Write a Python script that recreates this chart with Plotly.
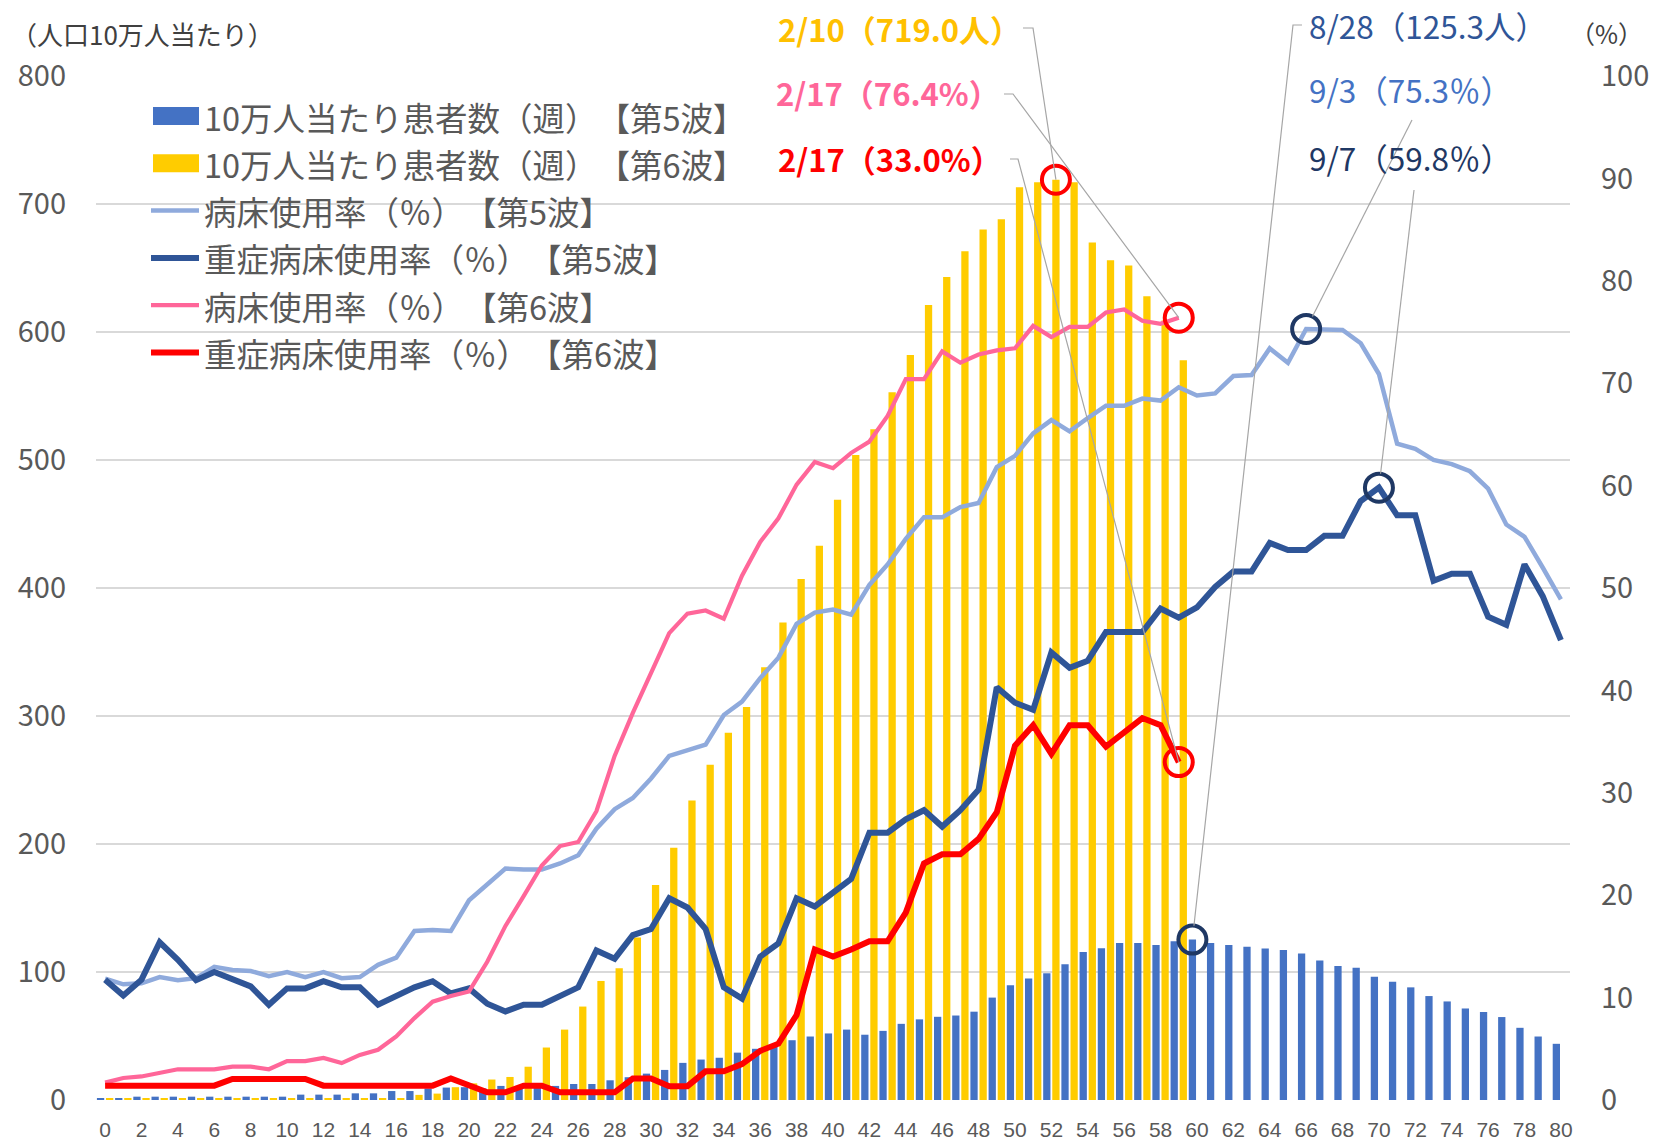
import math
import plotly.graph_objects as go

# ---------------- data ----------------
days = list(range(81))
x_ticks = list(range(0, 81, 2))

# weekly cases per 100k (wave 5: 81 days, wave 6: 60 days)
wave5_cases = [1.3, 1.3, 2.6, 2.6, 2.6, 2.6, 2.6, 2.6, 2.6, 2.6,
               2.6, 4.2, 4.2, 4.2, 5.2, 5.2, 7.0, 7.0, 9.0, 9.7,
               10.0, 9.0, 11.0, 11.0, 11.0, 11.0, 12.5, 12.5, 15.4, 17.8,
               20.6, 23.5, 29.0, 31.6, 33.0, 37.0, 40.0, 43.0, 46.7, 49.6,
               52.0, 55.0, 51.0, 54.0, 59.5, 63.0, 65.0, 66.0, 69.0, 80.0,
               89.6, 95.0, 99.0, 106.0, 115.7, 118.5, 122.7, 122.7, 121.0, 124.0,
               125.3, 122.7, 121.0, 119.8, 118.3, 117.2, 114.4, 108.9, 104.7, 103.4,
               96.3, 92.4, 88.0, 81.2, 77.0, 71.5, 68.7, 64.8, 56.4, 49.6,
               43.9]
wave6_cases = [1, 1, 1, 1, 1, 1, 1, 1, 1, 1,
               1, 1, 1, 1, 1.5, 1.5, 1.5, 4, 5, 10,
               13, 16, 18, 26, 41, 55, 73, 93, 103, 127,
               168, 197, 234, 262, 287, 307, 338, 373, 407, 433,
               469, 504, 524, 553, 582, 621, 643, 663, 680, 688,
               713, 717, 719.0, 717, 670, 656, 652, 628, 609, 578]

# bed usage rates (%)
wave5_bed = [11.85, 11.3, 11.4, 12.0, 11.7, 11.9, 13.0, 12.7, 12.6, 12.1,
             12.5, 12.0, 12.5, 11.9, 12.0, 13.2, 13.9, 16.5, 16.6, 16.5,
             19.5, 21.0, 22.6, 22.5, 22.5, 23.1, 23.9, 26.5, 28.4, 29.5,
             31.4, 33.6, 34.1, 34.7, 37.6, 38.9, 41.2, 43.2, 46.5, 47.6,
             47.9, 47.4, 50.3, 52.3, 54.8, 56.9, 56.9, 57.9, 58.3, 61.8,
             62.9, 65.1, 66.4, 65.3, 66.6, 67.8, 67.8, 68.5, 68.3, 69.6,
             68.8, 69.0, 70.7, 70.8, 73.4, 72.0, 75.3, 75.2, 75.2, 73.9,
             70.9, 64.1, 63.6, 62.5, 62.1, 61.4, 59.7, 56.2, 55.0, 52.0,
             48.9]
wave5_severe = [11.75, 10.2, 11.75, 15.4, 13.7, 11.7, 12.5, 11.8, 11.1, 9.3,
                10.9, 10.9, 11.6, 11.0, 11.0, 9.3, 10.2, 11.0, 11.6, 10.4,
                10.9, 9.4, 8.65, 9.3, 9.3, 10.2, 11.0, 14.6, 13.8, 16.1,
                16.7, 19.7, 18.8, 16.7, 11.0, 9.9, 14.0, 15.3, 19.7, 18.9,
                20.3, 21.6, 26.1, 26.1, 27.4, 28.3, 26.7, 28.3, 30.3, 40.3,
                38.8, 38.1, 43.7, 42.2, 42.9, 45.7, 45.7, 45.7, 48.0, 47.1,
                48.1, 50.1, 51.6, 51.6, 54.4, 53.7, 53.7, 55.1, 55.1, 58.5,
                59.8, 57.1, 57.1, 50.7, 51.4, 51.4, 47.2, 46.4, 52.3, 49.2,
                44.9]
wave6_bed = [1.7, 2.15, 2.3, 2.7, 3.0, 3.0, 3.0, 3.25, 3.25, 3.0,
             3.8, 3.8, 4.1, 3.6, 4.4, 4.9, 6.2, 8.0, 9.6, 10.15,
             10.6, 13.5, 17.0, 19.9, 22.9, 24.8, 25.2, 28.2, 33.6, 37.8,
             41.6, 45.6, 47.5, 47.8, 47.0, 51.2, 54.5, 56.8, 60.1, 62.3,
             61.7, 63.2, 64.3, 66.8, 70.4, 70.4, 73.1, 72.0, 72.8, 73.2,
             73.4, 75.6, 74.5, 75.5, 75.5, 76.9, 77.2, 76.1, 75.8, 76.4]
wave6_severe = [1.4, 1.4, 1.4, 1.4, 1.4, 1.4, 1.4, 2.05, 2.05, 2.05,
                2.05, 2.05, 1.4, 1.4, 1.4, 1.4, 1.4, 1.4, 1.4, 2.1,
                1.4, 0.75, 0.75, 1.4, 1.4, 0.75, 0.75, 0.75, 0.75, 2.1,
                2.1, 1.35, 1.35, 2.8, 2.8, 3.5, 4.8, 5.5, 8.3, 14.7,
                14.0, 14.7, 15.5, 15.5, 18.3, 23.1, 24.0, 24.0, 25.5, 28.1,
                34.6, 36.6, 33.8, 36.6, 36.6, 34.5, 35.9, 37.3, 36.6, 33.0]

series_names = ["10万人当たり患者数（週）【第5波】", "10万人当たり患者数（週）【第6波】",
                "病床使用率（％）【第5波】", "重症病床使用率（％）【第5波】",
                "病床使用率（％）【第6波】", "重症病床使用率（％）【第6波】"]
colors = ["#4472C4", "#FFCC00", "#8FAADC", "#2F5597", "#FF6699", "#FF0000"]
line_widths = [4.5, 6, 4.2, 6]

# ---------------- geometry (page pixels; body margin removed below) ----------------
W, H = 1655, 1142
PX0, PY0 = 96, 76                 # plot area top-left
PW, PH = 1474, 1024
L, T = PX0, PY0
R, B = W - L - PW, H - T - PH
XR = (-0.5, 80.5)
YMAX, Y2MAX = 800, 100
RATIO = YMAX / Y2MAX
BAR_W = 0.4
OFF5, OFF6 = -0.45, 0.05
C5, C6 = OFF5 + BAR_W / 2, OFF6 + BAR_W / 2


def px_x(x):
    return PX0 + (x - XR[0]) / (XR[1] - XR[0]) * PW


def px_y(v):
    return PY0 + PH - v / YMAX * PH


def paper(px, py):
    return (px - PX0) / PW, (PY0 + PH - py) / PH


fig = go.Figure()
fig.add_trace(go.Bar(x=days, y=wave5_cases, width=BAR_W, offset=OFF5,
                     marker=dict(color=colors[0], line=dict(width=0)), name=series_names[0]))
fig.add_trace(go.Bar(x=days[:len(wave6_cases)], y=wave6_cases, width=BAR_W, offset=OFF6,
                     marker=dict(color=colors[1], line=dict(width=0)), name=series_names[1]))
line_data = [wave5_bed, wave5_severe, wave6_bed, wave6_severe]
for k, vals in enumerate(line_data):
    fig.add_trace(go.Scatter(x=days[:len(vals)], y=vals, yaxis="y2", mode="lines",
                             line=dict(color=colors[2 + k], width=line_widths[k]),
                             name=series_names[2 + k]))

# ---------------- highlighted points ----------------
i6 = wave6_cases.index(max(wave6_cases))
i5 = wave5_cases.index(max(wave5_cases))
ib5 = wave5_bed.index(max(wave5_bed))
is5 = wave5_severe.index(max(wave5_severe))
last6 = len(wave6_bed) - 1

callouts = [
    (i6 + C6, wave6_cases[i6] / RATIO, "#FF0000", [(1023, 28), (1033, 28)], False,
     "2/10（%.1f人）" % wave6_cases[i6], "#FFC000", True, (776, 28)),
    (last6, wave6_bed[last6], "#FF0000", [(1004, 94), (1013, 94)], False,
     "2/17（%.1f%%）" % wave6_bed[last6], "#FF6699", True, (774, 92)),
    (last6, wave6_severe[last6], "#FF0000", [(1010, 159), (1018, 159)], False,
     "2/17（%.1f%%）" % wave6_severe[last6], "#FF0000", True, (776, 158)),
    (i5 + C5, wave5_cases[i5] / RATIO, "#1F3864", [(1302, 25), (1293, 25)], True,
     "8/28（%.1f人）" % wave5_cases[i5], "#2F5597", False, (1307, 25)),
    (ib5, wave5_bed[ib5], "#1F3864", [(1412, 120)], True,
     "9/3（%.1f％）" % wave5_bed[ib5], "#4472C4", False, (1307, 89)),
    (is5, wave5_severe[is5], "#1F3864", [(1414, 190)], True,
     "9/7（%.1f％）" % wave5_severe[is5], "#1F3864", False, (1307, 157)),
]

CIRC = 28
shapes = []
annotations = []
for (cx, cy, ccol, pts, edge, label, lcol, bold, (lx, ly)) in callouts:
    fig.add_trace(go.Scatter(x=[cx], y=[cy], yaxis="y2", mode="markers", showlegend=False,
                             hoverinfo="skip",
                             marker=dict(symbol="circle-open", size=CIRC, color=ccol,
                                         line=dict(width=4, color=ccol))))
    ex, ey = px_x(cx), px_y(cy * RATIO)
    if edge:
        sx, sy = pts[-1]
        d = math.hypot(sx - ex, sy - ey)
        r = CIRC / 2
        ex, ey = ex + (sx - ex) / d * r, ey + (sy - ey) / d * r
    allp = [paper(px, py) for px, py in pts] + [paper(ex, ey)]
    path = "M " + " L ".join("%.5f,%.5f" % p for p in allp)
    shapes.append(dict(type="path", xref="paper", yref="paper", path=path,
                       line=dict(color="#A6A6A6", width=1.2), layer="above"))
    ax, ay = paper(lx, ly)
    annotations.append(dict(xref="paper", yref="paper", x=ax, y=ay, xanchor="left",
                            yanchor="middle", align="left", showarrow=False,
                            text=("<b>%s</b>" % label) if bold else label,
                            font=dict(size=31 if bold else 31.5, color=lcol,
                                      family="Noto Sans CJK JP")))

# ---------------- custom legend ----------------
LEG_Y0, LEG_DY = 116, 47.3
SW_X0, SW_X1, TXT_X = 153, 199, 202
for k, name in enumerate(series_names):
    yc = LEG_Y0 + k * LEG_DY
    if k < 2:
        x0, y0 = paper(SW_X0, yc + 9)
        x1, y1 = paper(SW_X1, yc - 9)
        shapes.append(dict(type="rect", xref="paper", yref="paper", x0=x0, y0=y0, x1=x1, y1=y1,
                           fillcolor=colors[k], line=dict(width=0), layer="above"))
    else:
        x0, y0 = paper(SW_X0 - 2, yc)
        x1, _ = paper(SW_X1, yc)
        shapes.append(dict(type="line", xref="paper", yref="paper", x0=x0, y0=y0, x1=x1, y1=y0,
                           line=dict(color=colors[k], width=line_widths[k - 2]), layer="above"))
    tx, ty = paper(TXT_X, yc)
    annotations.append(dict(xref="paper", yref="paper", x=tx, y=ty, xanchor="left",
                            yanchor="middle", align="left", showarrow=False, text=name,
                            font=dict(size=32.5, color="#595959", family="Noto Sans CJK JP")))

# axis titles
tx, ty = paper(9, 33)
annotations.append(dict(xref="paper", yref="paper", x=tx, y=ty, xanchor="left", yanchor="middle",
                        align="left", showarrow=False, text="（人口10万人当たり）",
                        font=dict(size=26, color="#404040", family="Noto Sans CJK JP")))
tx, ty = paper(1568, 33)
annotations.append(dict(xref="paper", yref="paper", x=tx, y=ty, xanchor="left", yanchor="middle",
                        align="left", showarrow=False, text="（%）",
                        font=dict(size=25, color="#404040", family="Noto Sans CJK JP")))

fig.update_layout(
    width=W, height=H, margin=dict(l=L, r=R, t=T, b=B, autoexpand=False),
    paper_bgcolor="white", plot_bgcolor="white",
    barmode="overlay", showlegend=False,
    font=dict(family="Noto Sans CJK JP", color="#595959"),
    xaxis=dict(range=list(XR), tickmode="array", tickvals=x_ticks,
               ticktext=[str(v) for v in x_ticks], showgrid=False, zeroline=False,
               showline=False, ticks="",
               tickfont=dict(size=21, color="#595959", family="Liberation Sans"),
               ticklabelstandoff=15, fixedrange=True),
    yaxis=dict(range=[0, YMAX], dtick=100, tick0=0, gridcolor="#D9D9D9", gridwidth=1.5,
               zeroline=False, showline=False, ticks="",
               tickfont=dict(size=29, color="#595959"), ticklabelstandoff=29),
    yaxis2=dict(range=[0, Y2MAX], dtick=10, tick0=0, overlaying="y", side="right",
                showgrid=False, zeroline=False, showline=False, ticks="",
                tickfont=dict(size=29, color="#595959"), ticklabelstandoff=30),
    shapes=shapes, annotations=annotations,
)

css_js = ("var s=document.createElement('style');"
          "s.textContent='html,body{margin:0;padding:0;overflow:hidden;}"
          "text{text-spacing-trim:space-all;}';"
          "document.head.appendChild(s);")
fig.write_html("out.html", post_script=css_js, config={"displayModeBar": False})
